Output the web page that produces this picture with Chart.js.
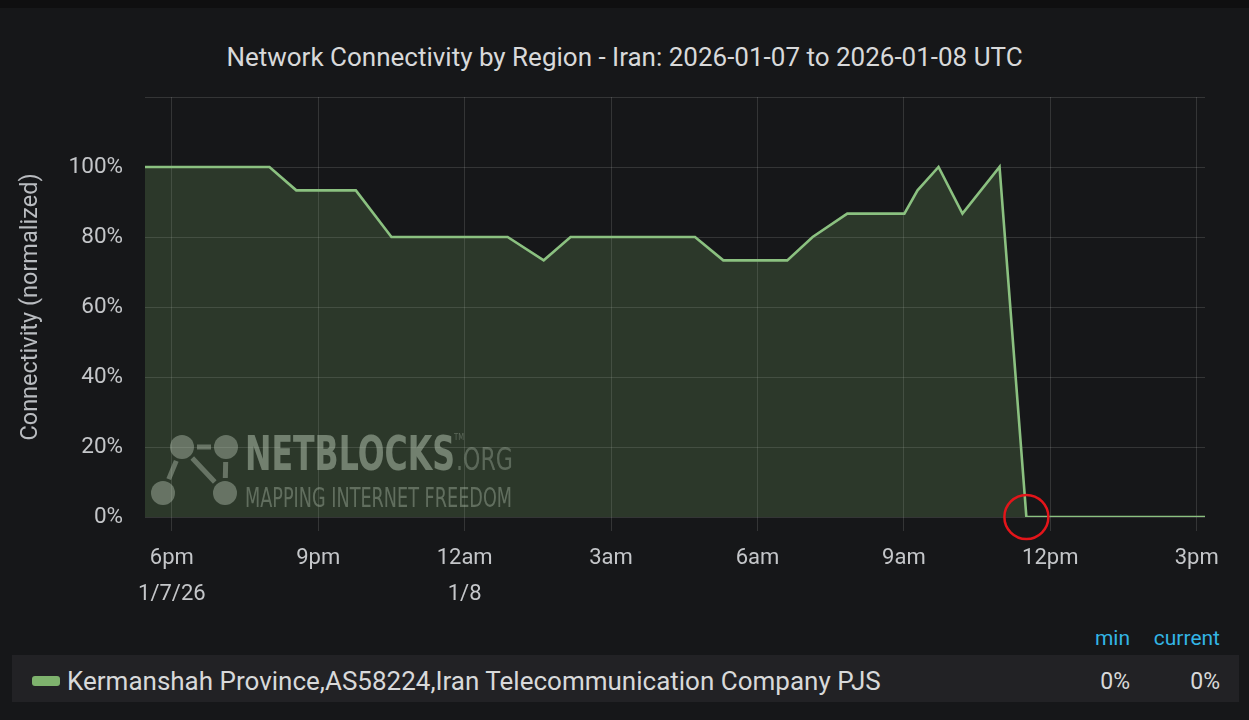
<!DOCTYPE html>
<html>
<head>
<meta charset="utf-8">
<script src="https://cdn.jsdelivr.net/npm/chart.js@4/dist/chart.umd.min.js"></script>
<style>
  html, body { margin: 0; padding: 0; }
  body { width: 1249px; height: 720px; background: #161719; position: relative; overflow: hidden; font-family: Roboto, 'Noto Sans', sans-serif; }
  .topbar { position: absolute; left: 0; top: 0; width: 1249px; height: 8px; background: #0f0f10; }
  .title { position: absolute; left: 0; top: 40px; width: 1249px; text-align: center; font-size: 26px; line-height: 34px; color: #d8d9da; }
  .chart-box { position: absolute; left: 0; top: 8px; width: 1249px; height: 604px; }
  .legend-head { position: absolute; top: 624px; color: #33b5e5; font-size: 21px; line-height: 28px; text-align: right; }
  .legend-row { position: absolute; left: 12px; top: 655px; width: 1227px; height: 47px; background: #222225; }
  .swatch { position: absolute; left: 20px; top: 21px; width: 28px; height: 10px; border-radius: 3px; background: #7eb26d; }
  .series-name { position: absolute; left: 55px; top: 3px; line-height: 47px; font-size: 26px; color: #d8d9da; white-space: nowrap; }
  .stat { position: absolute; top: 3px; line-height: 47px; font-size: 23px; color: #d8d9da; text-align: right; }
</style>
</head>
<body>
<div class="topbar"></div>
<div class="title" id="chartTitle"></div>
<div class="chart-box"><canvas id="netChart"></canvas></div>

<div class="legend-head" style="left:1060px;width:70px;">min</div>
<div class="legend-head" style="left:1140px;width:80px;">current</div>
<div class="legend-row">
  <div class="swatch"></div>
  <div class="series-name" id="seriesName"></div>
  <div class="stat" id="statMin" style="left:1050px;width:68px;"></div>
  <div class="stat" id="statCur" style="left:1140px;width:68px;"></div>
</div>

<script>
// hours counted from 2026-01-07 00:00 UTC
const hours = [17.45, 20.0, 20.55, 21.77, 22.5, 24.88, 25.62, 26.17, 28.72, 29.3,
               30.61, 31.13, 31.84, 33.01, 33.28, 33.71, 34.2, 34.96, 35.51, 39.17];
const connectivity = [100, 100, 93.33, 93.33, 80, 80, 73.33, 80, 80, 73.33,
                      73.33, 80, 86.67, 86.67, 93.33, 100, 86.67, 100, 0, 0];

const tickHours = [18, 21, 24, 27, 30, 33, 36, 39];
const tickLabels = [['6pm', '1/7/26'], ['9pm'], ['12am', '1/8'], ['3am'], ['6am'], ['9am'], ['12pm'], ['3pm']];

const seriesName = 'Kermanshah Province,AS58224,Iran Telecommunication Company PJS';
const chartTitle = 'Network Connectivity by Region - Iran: 2026-01-07 to 2026-01-08 UTC';

document.getElementById('chartTitle').textContent = chartTitle;
document.getElementById('seriesName').textContent = seriesName;
document.getElementById('statMin').textContent = Math.min(...connectivity) + '%';
document.getElementById('statCur').textContent = connectivity[connectivity.length - 1] + '%';

const fontFamily = "Roboto, 'Noto Sans', sans-serif";
const gridColor = 'rgba(255, 255, 255, 0.13)';
const tickColor = '#c4c6c9';

// watermark in the lower left corner of the plot
const watermark = {
  id: 'watermark',
  beforeDatasetsDraw(chart) {
    const ctx = chart.ctx;
    const a = chart.chartArea;
    const x0 = a.left, y0 = a.bottom;
    const col = 'rgba(210, 216, 210, 0.4)';
    const nodes = [[37, -70], [81, -70], [18, -24], [80, -24]];
    const links = [[0, 1], [0, 2], [0, 3], [1, 3]];
    ctx.save();
    ctx.strokeStyle = col;
    ctx.fillStyle = col;
    ctx.lineWidth = 5;
    links.forEach(([i, j]) => {
      const [ax, ay] = nodes[i], [bx, by] = nodes[j];
      const dx = bx - ax, dy = by - ay, len = Math.hypot(dx, dy);
      const cut = 15;
      ctx.beginPath();
      ctx.moveTo(x0 + ax + dx / len * cut, y0 + ay + dy / len * cut);
      ctx.lineTo(x0 + bx - dx / len * cut, y0 + by - dy / len * cut);
      ctx.stroke();
    });
    nodes.forEach(([nx, ny]) => {
      ctx.beginPath();
      ctx.arc(x0 + nx, y0 + ny, 12, 0, Math.PI * 2);
      ctx.fill();
    });
    const fitText = (text, font, left, base, width) => {
      ctx.font = font;
      const w = ctx.measureText(text).width;
      ctx.save();
      ctx.translate(left, base);
      ctx.scale(width / w, 1);
      ctx.fillText(text, 0, 0);
      ctx.restore();
    };
    ctx.textBaseline = 'alphabetic';
    ctx.fillStyle = 'rgba(220, 226, 220, 0.45)';
    fitText('NETBLOCKS', "bold 48px 'DejaVu Sans'", x0 + 100, y0 - 47, 210);
    ctx.fillStyle = 'rgba(210, 216, 210, 0.32)';
    fitText('.ORG', "32px 'DejaVu Sans'", x0 + 311, y0 - 47, 57);
    fitText('TM', "8px 'DejaVu Sans'", x0 + 309, y0 - 77, 10);
    ctx.fillStyle = 'rgba(210, 216, 210, 0.36)';
    fitText('MAPPING INTERNET FREEDOM', "27px 'DejaVu Sans'", x0 + 100, y0 - 10, 267);
    ctx.restore();
  }
};

// red ring around the point where connectivity hits zero
const dropMarker = {
  id: 'dropMarker',
  afterDatasetsDraw(chart) {
    const idx = connectivity.indexOf(0);
    const pt = chart.getDatasetMeta(0).data[idx];
    if (!pt) return;
    const ctx = chart.ctx;
    ctx.save();
    ctx.strokeStyle = '#e3151a';
    ctx.lineWidth = 2.5;
    ctx.beginPath();
    ctx.arc(pt.x, pt.y, 22, 0, Math.PI * 2);
    ctx.stroke();
    ctx.restore();
  }
};

const canvas = document.getElementById('netChart');
new Chart(canvas.getContext('2d'), {
  type: 'line',
  data: {
    datasets: [{
      label: seriesName,
      data: hours.map((h, i) => ({ x: h, y: connectivity[i] })),
      borderColor: '#8bc180',
      backgroundColor: 'rgba(126, 178, 109, 0.21)',
      borderWidth: 2.6,
      fill: 'origin',
      pointRadius: 0,
      tension: 0
    }]
  },
  options: {
    responsive: true,
    maintainAspectRatio: false,
    animation: false,
    layout: { padding: { left: 0, right: 44, top: 89, bottom: 0 } },
    plugins: {
      legend: { display: false },
      tooltip: { enabled: false },
      title: { display: false }
    },
    scales: {
      x: {
        type: 'linear',
        min: hours[0],
        max: hours[hours.length - 1],
        afterBuildTicks: s => { s.ticks = tickHours.map(v => ({ value: v })); },
        afterFit: s => { s.height = 95; },
        grid: { color: gridColor, tickLength: 14 },
        border: { display: false },
        ticks: {
          color: tickColor,
          font: { family: fontFamily, size: 22, lineHeight: 36 / 22 },
          padding: 9,
          maxRotation: 0,
          autoSkip: false,
          callback: (v, i) => tickLabels[i]
        }
      },
      y: {
        min: 0,
        max: 120,
        afterFit: s => { s.width = 145; },
        grid: { color: gridColor, drawTicks: false },
        border: { display: false },
        ticks: {
          stepSize: 20,
          color: tickColor,
          font: { family: fontFamily, size: 22.5 },
          padding: 22,
          callback: v => (v > 100 ? '' : v + '%')
        },
        title: {
          display: true,
          text: 'Connectivity (normalized)',
          color: '#b9bcc0',
          font: { family: fontFamily, size: 23.5 },
          padding: { top: 17, bottom: 0 }
        }
      }
    }
  },
  plugins: [watermark, dropMarker]
});
</script>
</body>
</html>
